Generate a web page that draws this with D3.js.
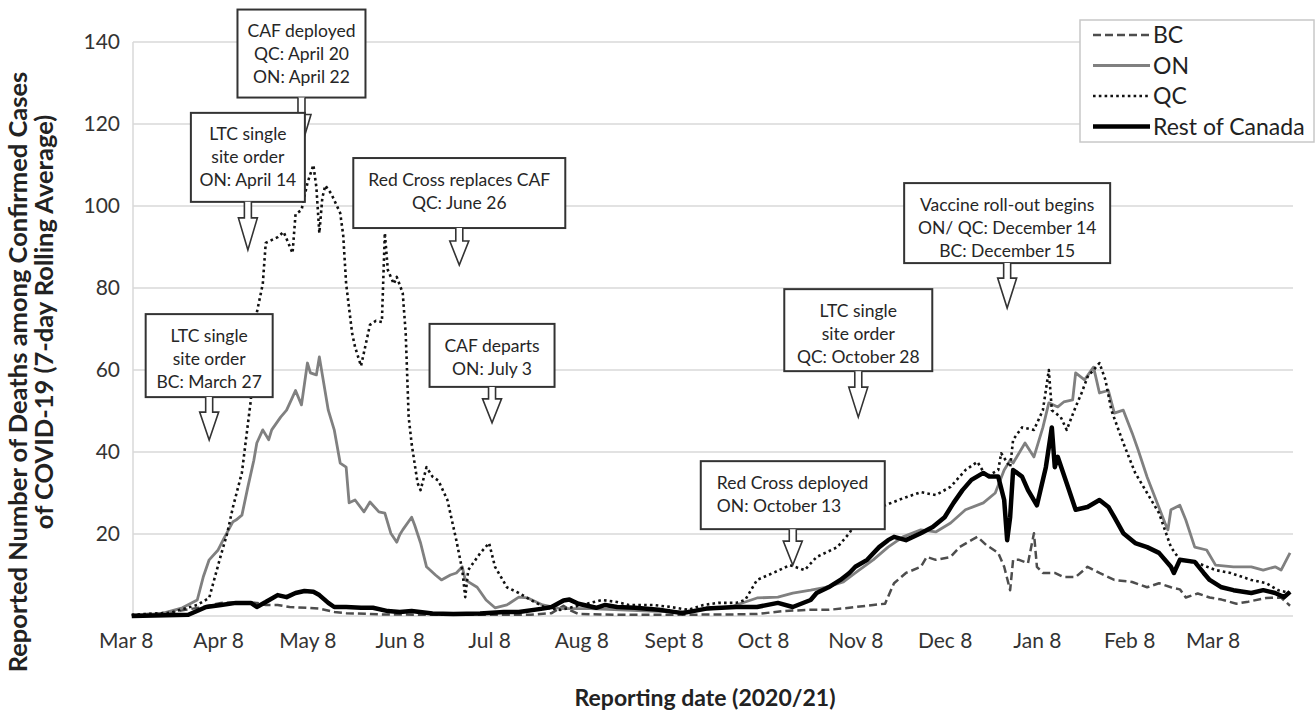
<!DOCTYPE html>
<html>
<head>
<meta charset="utf-8">
<script src="https://cdn.jsdelivr.net/npm/d3@7"></script>
<style>
  body { margin: 0; background: #fff; }
  svg { display: block; font-family: Lato, "Open Sans", sans-serif; }
</style>
</head>
<body>
<div id="wrapper"></div>
<script>
// series values: [date, 7-day avg deaths]
const bcSeries = [
  ["2020-03-10",0.2],["2020-03-20",0.7],["2020-03-28",1.5],["2020-04-03",2.2],["2020-04-09",3.2],["2020-04-13",3.3],
  ["2020-04-21",3.2],["2020-04-24",2.7],["2020-04-28",2.7],["2020-05-02",2.2],["2020-05-08",2],["2020-05-12",1.8],
  ["2020-05-17",1],["2020-05-21",0.7],["2020-06-01",0.4],["2020-06-18",0.3],["2020-07-05",0.3],["2020-07-22",0.3],
  ["2020-07-29",0.7],["2020-08-02",2.5],["2020-08-04",1.5],["2020-08-07",0.5],["2020-08-21",0.3],["2020-09-10",0.3],
  ["2020-09-30",0.4],["2020-10-06",0.5],["2020-10-15",1.2],["2020-10-23",1.5],["2020-10-30",1.5],["2020-11-06",2],
  ["2020-11-14",2.7],["2020-11-18",3],["2020-11-21",8],["2020-11-25",10.5],["2020-11-30",12],["2020-12-02",14.4],
  ["2020-12-05",13.7],["2020-12-10",14.4],["2020-12-13",16.8],["2020-12-17",18.5],["2020-12-19",19.3],["2020-12-22",17.3],
  ["2020-12-26",15.4],["2020-12-28",12],["2020-12-30",6.3],["2020-12-31",13.7],["2021-01-02",13.7],["2021-01-05",12.9],
  ["2021-01-07",20.2],["2021-01-08",12],["2021-01-10",10.5],["2021-01-14",10.5],["2021-01-17",9.5],["2021-01-21",9.5],
  ["2021-01-25",12],["2021-01-29",10.5],["2021-02-03",8.8],["2021-02-09",8.3],["2021-02-14",7],["2021-02-18",8],
  ["2021-02-22",7],["2021-02-25",6.5],["2021-02-27",4.5],["2021-03-03",5.5],["2021-03-07",4.5],["2021-03-11",4],
  ["2021-03-16",3],["2021-03-20",3.5],["2021-03-26",4.4],["2021-03-31",4.5],["2021-04-03",2.5]
]

const onSeries = [
  ["2020-03-10",0.2],["2020-03-20",0.6],["2020-03-27",2],["2020-04-01",3.9],["2020-04-03",9.5],["2020-04-05",13.7],
  ["2020-04-08",16.1],["2020-04-10",19],["2020-04-13",23],["2020-04-14",23.4],["2020-04-16",24.6],["2020-04-18",31.5],
  ["2020-04-20",38],["2020-04-21",42.2],["2020-04-23",45.4],["2020-04-25",43],["2020-04-26",45.4],["2020-04-29",48.5],
  ["2020-05-01",50.2],["2020-05-03",53.4],["2020-05-04",55],["2020-05-06",51.5],["2020-05-08",61.7],["2020-05-09",59.3],
  ["2020-05-11",58.8],["2020-05-12",63.2],["2020-05-15",50.2],["2020-05-17",45.4],["2020-05-19",37.3],["2020-05-21",36.3],
  ["2020-05-22",27.6],["2020-05-24",28.3],["2020-05-27",25.4],["2020-05-29",27.8],["2020-06-01",25.4],["2020-06-03",25.1],
  ["2020-06-05",20.2],["2020-06-07",18],["2020-06-08",19.8],["2020-06-09",21],["2020-06-12",24.1],["2020-06-13",22.2],
  ["2020-06-15",17.8],["2020-06-17",12],["2020-06-20",10],["2020-06-22",8.8],["2020-06-25",10],["2020-06-27",10.5],
  ["2020-06-29",12],["2020-06-30",8.8],["2020-07-04",7],["2020-07-07",3.9],["2020-07-10",2],["2020-07-14",2.7],
  ["2020-07-18",4.6],["2020-07-21",4.4],["2020-07-26",2.7],["2020-08-01",1.8],["2020-08-11",1.8],["2020-08-21",1.5],
  ["2020-08-31",1.2],["2020-09-10",1],["2020-09-17",1.5],["2020-09-27",2.2],["2020-10-06",4.4],["2020-10-13",4.6],
  ["2020-10-18",5.6],["2020-10-24",6.3],["2020-10-29",7],["2020-11-04",8.3],["2020-11-08",10.5],["2020-11-14",13.7],
  ["2020-11-19",16.8],["2020-11-24",19.3],["2020-11-30",21],["2020-12-05",20.5],["2020-12-10",22.7],["2020-12-15",25.9],
  ["2020-12-21",27.6],["2020-12-25",30],["2020-12-28",35.6],["2020-12-30",38],["2020-12-31",37.3],["2021-01-04",42.2],
  ["2021-01-07",38.8],["2021-01-10",46],["2021-01-12",52],["2021-01-15",51],["2021-01-17",52.2],["2021-01-20",52.7],
  ["2021-01-21",59.3],["2021-01-24",57.6],["2021-01-27",60.7],["2021-01-28",57.6],["2021-01-29",54.4],["2021-02-01",55],
  ["2021-02-03",49.5],["2021-02-06",50.2],["2021-02-09",44.6],["2021-02-11",40.5],["2021-02-14",33.9],["2021-02-17",28.3],
  ["2021-02-20",22.7],["2021-02-21",21],["2021-02-22",25.9],["2021-02-25",27],["2021-02-27",23.4],["2021-03-02",16.8],
  ["2021-03-06",16.1],["2021-03-09",12.4],["2021-03-15",12],["2021-03-21",12],["2021-03-25",11.2],["2021-03-29",12],
  ["2021-03-31",11.2],["2021-04-03",15.4]
]

const qcSeries = [
  ["2020-03-10",0.3],["2020-03-23",0.8],["2020-04-01",2.7],["2020-04-05",4.4],["2020-04-09",15],["2020-04-11",20],
  ["2020-04-13",26.6],["2020-04-16",35],["2020-04-19",52.7],["2020-04-21",74],["2020-04-23",81],["2020-04-24",91],
  ["2020-04-28",92.4],["2020-04-30",93.7],["2020-05-03",88.5],["2020-05-04",98],["2020-05-06",99],["2020-05-08",105.6],
  ["2020-05-10",110],["2020-05-11",104.6],["2020-05-12",93.4],["2020-05-13",102],["2020-05-14",105],["2020-05-16",103],
  ["2020-05-19",98.3],["2020-05-20",93],["2020-05-21",81],["2020-05-23",69],["2020-05-24",65.6],["2020-05-26",61],
  ["2020-05-29",71],["2020-05-31",72],["2020-06-02",71.7],["2020-06-03",93.4],["2020-06-04",84.4],["2020-06-06",81],
  ["2020-06-07",82.7],["2020-06-09",78.8],["2020-06-10",69],["2020-06-11",48.5],["2020-06-12",42],["2020-06-14",32.4],
  ["2020-06-15",30.7],["2020-06-17",36.3],["2020-06-19",34],["2020-06-21",33],["2020-06-24",28.3],["2020-06-27",18.5],
  ["2020-06-29",11.2],["2020-06-30",4.6],["2020-07-01",11.2],["2020-07-05",15.3],["2020-07-08",17.8],["2020-07-10",12],
  ["2020-07-14",7],["2020-07-18",5.6],["2020-07-22",3.9],["2020-07-27",2],["2020-08-01",1.5],["2020-08-07",2.5],
  ["2020-08-15",3.9],["2020-08-20",3.4],["2020-08-24",2.7],["2020-09-01",2.7],["2020-09-07",2.2],["2020-09-13",1.5],
  ["2020-09-18",2.7],["2020-09-23",3.2],["2020-09-29",3.2],["2020-10-02",3.9],["2020-10-06",8.8],["2020-10-12",10.7],
  ["2020-10-17",12.4],["2020-10-22",11.2],["2020-10-26",14.4],["2020-11-02",16.8],["2020-11-06",20.2],["2020-11-11",25.9],
  ["2020-11-18",27],["2020-11-24",28.7],["2020-11-30",30.2],["2020-12-05",29.5],["2020-12-10",31.5],["2020-12-15",35.6],
  ["2020-12-19",37.6],["2020-12-22",34],["2020-12-26",35.6],["2020-12-27",39.7],["2020-12-30",36.3],["2020-12-31",43],
  ["2021-01-03",46],["2021-01-07",45.4],["2021-01-10",50.2],["2021-01-12",60],["2021-01-13",50.2],["2021-01-16",48.5],
  ["2021-01-18",45.4],["2021-01-21",51],["2021-01-23",54.4],["2021-01-25",58.3],["2021-01-29",61.7],["2021-01-31",57.6],
  ["2021-02-02",50.2],["2021-02-06",42.2],["2021-02-10",34.9],["2021-02-14",30],["2021-02-18",25.1],["2021-02-22",16.8],
  ["2021-02-25",13.7],["2021-03-03",12.9],["2021-03-09",11.2],["2021-03-14",10.5],["2021-03-21",8.8],["2021-03-26",8],
  ["2021-03-30",6.3],["2021-04-03",5.6]
]

const restSeries = [
  ["2020-03-10",0],["2020-03-29",0.3],["2020-04-04",2.2],["2020-04-09",2.7],["2020-04-14",3.2],["2020-04-19",3.2],
  ["2020-04-21",2.2],["2020-04-24",3.4],["2020-04-28",5.1],["2020-05-01",4.6],["2020-05-04",5.6],["2020-05-07",6.1],
  ["2020-05-10",5.9],["2020-05-12",5.1],["2020-05-15",3.2],["2020-05-17",2.2],["2020-05-21",2.2],["2020-05-26",2],
  ["2020-05-30",2],["2020-06-04",1.2],["2020-06-08",1],["2020-06-12",1.2],["2020-06-19",0.6],["2020-06-26",0.5],
  ["2020-07-05",0.6],["2020-07-13",1],["2020-07-18",1],["2020-07-26",1.8],["2020-07-29",2.2],["2020-08-02",3.8],
  ["2020-08-04",4],["2020-08-07",3],["2020-08-13",2],["2020-08-16",2.7],["2020-08-20",2.2],["2020-08-26",2],
  ["2020-09-03",1.5],["2020-09-11",0.7],["2020-09-19",1.8],["2020-09-29",2.2],["2020-10-06",2.2],["2020-10-13",3.2],
  ["2020-10-18",2.2],["2020-10-24",3.9],["2020-10-26",5.6],["2020-10-30",7],["2020-11-03",8.8],["2020-11-06",10.5],
  ["2020-11-08",12],["2020-11-12",13.7],["2020-11-16",16.8],["2020-11-19",18.5],["2020-11-21",19.3],["2020-11-25",18.5],
  ["2020-11-30",20.2],["2020-12-04",21.7],["2020-12-08",24.1],["2020-12-11",27.6],["2020-12-14",30.7],["2020-12-17",33.2],
  ["2020-12-21",34.9],["2020-12-23",34],["2020-12-26",34],["2020-12-28",28.3],["2020-12-29",18.5],["2020-12-30",24.1],
  ["2020-12-31",35.6],["2021-01-03",34],["2021-01-05",30.7],["2021-01-08",27],["2021-01-11",36.3],["2021-01-13",46],
  ["2021-01-14",36.3],["2021-01-15",38.8],["2021-01-18",32.4],["2021-01-21",25.9],["2021-01-25",26.6],["2021-01-29",28.3],
  ["2021-02-01",26.6],["2021-02-03",24.1],["2021-02-06",20.2],["2021-02-10",17.8],["2021-02-14",16.8],["2021-02-18",15.4],
  ["2021-02-22",12],["2021-02-23",10.5],["2021-02-25",13.7],["2021-03-02",13.2],["2021-03-05",10.5],["2021-03-07",8.8],
  ["2021-03-11",7],["2021-03-15",6.3],["2021-03-21",5.6],["2021-03-25",6.3],["2021-03-29",5.6],["2021-04-01",4.6],
  ["2021-04-03",5.9]
]

const seriesNames = ["BC", "ON", "QC", "Rest of Canada"]
const tickMonths = ["Mar", "Apr", "May", "Jun", "Jul", "Aug", "Sept", "Oct", "Nov", "Dec", "Jan", "Feb", "Mar"]
const tickDates = ["2020-03-08","2020-04-08","2020-05-08","2020-06-08","2020-07-08","2020-08-08","2020-09-08",
  "2020-10-08","2020-11-08","2020-12-08","2021-01-08","2021-02-08","2021-03-08"]
const yTicks = [20, 40, 60, 80, 100, 120, 140]

// callouts: text lines and the point (date, value) the arrow tip sits on
const calloutText = [
  ["CAF deployed", "QC: April 20", "ON: April 22"],
  ["LTC single", "site order", "ON: April 14"],
  ["Red Cross replaces CAF", "QC: June 26"],
  ["CAF departs", "ON: July 3"],
  ["LTC single", "site order", "BC: March 27"],
  ["Vaccine roll-out begins", "ON/ QC: December 14", "BC: December 15"],
  ["LTC single", "site order", "QC: October 28"],
  ["Red Cross deployed", "ON: October 13"],
]
const calloutTip = [
  ["2020-05-06", 114.5], ["2020-04-18", 89.3], ["2020-06-28", 85.6], ["2020-07-09", 47.1],
  ["2020-04-05", 42.9], ["2020-12-29", 75.1], ["2020-11-09", 48.5], ["2020-10-18", 12.4],
]

const drawChart = () => {
  const parseDate = d3.utcParse("%Y-%m-%d")
  const xAccessor = (d) => parseDate(d[0])
  const yAccessor = (d) => d[1]

  // 1) Dimensions
  const dimensions = {
    width: 1316,
    height: 713,
    margins: { top: 42, right: 23, bottom: 97, left: 133 },
  }
  dimensions.boundedWidth = dimensions.width - dimensions.margins.left - dimensions.margins.right
  dimensions.boundedHeight = dimensions.height - dimensions.margins.top - dimensions.margins.bottom

  // 2) Canvas
  const svg = d3.select("#wrapper").append("svg")
    .attr("width", dimensions.width)
    .attr("height", dimensions.height)

  const bounds = svg.append("g")
    .attr("transform", `translate(${dimensions.margins.left},${dimensions.margins.top})`)

  // 3) Scales
  const xScale = d3.scaleUtc()
    .domain([new Date(Date.UTC(2020, 2, 10, 10)), new Date(Date.UTC(2021, 3, 4))])
    .range([0, dimensions.boundedWidth])

  const yScale = d3.scaleLinear()
    .domain([0, 140])
    .range([dimensions.boundedHeight, 0])

  // 4) Grid + axes
  const gridColor = "#d9d9d9"
  bounds.append("g").selectAll("line")
    .data([0, ...yTicks])
    .join("line")
    .attr("x1", 0)
    .attr("x2", dimensions.boundedWidth)
    .attr("y1", (d) => yScale(d))
    .attr("y2", (d) => yScale(d))
    .attr("stroke", gridColor)
    .attr("stroke-width", 1.5)

  bounds.append("line")
    .attr("x1", 0).attr("x2", 0)
    .attr("y1", 0).attr("y2", dimensions.boundedHeight)
    .attr("stroke", gridColor)
    .attr("stroke-width", 1.5)

  const yAxis = bounds.append("g")
    .call(d3.axisLeft(yScale).tickValues(yTicks).tickSize(0).tickPadding(13))
  const xAxis = bounds.append("g")
    .attr("transform", `translate(0,${dimensions.boundedHeight})`)
    .call(d3.axisBottom(xScale)
      .tickValues(tickDates.map(parseDate))
      .tickSize(0)
      .tickPadding(17)
      .tickFormat((d, i) => `${tickMonths[i]} 8`))

  ;[xAxis, yAxis].forEach((axis) => {
    axis.select(".domain").remove()
    axis.selectAll("text")
      .attr("font-family", "Lato, sans-serif")
      .attr("font-size", 21)
      .attr("fill", "#333")
  })

  // 5) Lines
  const lineGenerator = d3.line()
    .x((d) => xScale(xAccessor(d)))
    .y((d) => yScale(yAccessor(d)))

  const styles = [
    { stroke: "#4d4d4d", width: 2.5, dash: "8,4" },
    { stroke: "#808080", width: 2.8, dash: null },
    { stroke: "#111", width: 2.6, dash: "2.6,3.2" },
    { stroke: "#000", width: 4.5, dash: null },
  ]
  const allSeries = [bcSeries, onSeries, qcSeries, restSeries]

  bounds.append("g").selectAll("path")
    .data(allSeries)
    .join("path")
    .attr("d", (d) => lineGenerator(d))
    .attr("fill", "none")
    .attr("stroke", (d, i) => styles[i].stroke)
    .attr("stroke-width", (d, i) => styles[i].width)
    .attr("stroke-dasharray", (d, i) => styles[i].dash)
    .attr("stroke-linejoin", "round")

  // 6) Legend
  const legend = svg.append("g")
  legend.append("rect")
    .attr("x", 1080).attr("y", 20)
    .attr("width", 234).attr("height", 122)
    .attr("fill", "#fff")
    .attr("stroke", "#c8c8c8")
    .attr("stroke-width", 1.5)
  const rows = legend.selectAll("g.row")
    .data(seriesNames)
    .join("g")
    .attr("class", "row")
    .attr("transform", (d, i) => `translate(0,${35 + i * 30.5})`)
  rows.append("line")
    .attr("x1", 1093).attr("x2", 1150)
    .attr("stroke", (d, i) => styles[i].stroke)
    .attr("stroke-width", (d, i) => styles[i].width)
    .attr("stroke-dasharray", (d, i) => styles[i].dash)
  rows.append("text")
    .attr("x", 1153)
    .attr("dy", "0.35em")
    .attr("font-size", 23)
    .attr("fill", "#222")
    .text((d) => d)

  // 7) Callouts
  const calloutLayout = [
    { w: 128, h: 88, len: 49 }, { w: 114, h: 89, len: 48 }, { w: 212, h: 70, len: 37 },
    { w: 125, h: 63, len: 36 }, { w: 127, h: 83, len: 43 }, { w: 206, h: 80, len: 45 },
    { w: 148, h: 82, len: 46 }, { w: 184, h: 68, len: 36, align: "start" },
  ]
  const callouts = bounds.append("g")
  calloutText.forEach((lines, i) => {
    const lay = calloutLayout[i]
    const tx = xScale(parseDate(calloutTip[i][0]))
    const ty = yScale(calloutTip[i][1])
    const bottom = ty - lay.len
    const top = bottom - lay.h
    const left = tx - lay.w / 2
    const head = Math.round(lay.len * 0.66)
    const g = callouts.append("g")

    g.append("rect")
      .attr("x", left).attr("y", top)
      .attr("width", lay.w).attr("height", lay.h)
      .attr("fill", "#fff")
      .attr("stroke", "#333")
      .attr("stroke-width", 2)

    const sy = ty - head
    g.append("path")
      .attr("d", `M${tx - 3.5},${bottom} L${tx - 3.5},${sy} L${tx - 9.5},${sy} L${tx},${ty} L${tx + 9.5},${sy} L${tx + 3.5},${sy} L${tx + 3.5},${bottom}`)
      .attr("fill", "#fff")
      .attr("stroke", "#333")
      .attr("stroke-width", 1.6)

    g.selectAll("text")
      .data(lines)
      .join("text")
      .attr("x", lay.align === "start" ? left + 16 : tx)
      .attr("y", (d, j) => top + 21.5 + j * 23)
      .attr("dy", "0.35em")
      .attr("text-anchor", lay.align === "start" ? "start" : "middle")
      .attr("font-size", 17.5)
      .attr("fill", "#262626")
      .text((d) => d)
  })

  // 8) Axis titles
  svg.append("text")
    .attr("x", 705).attr("y", 706)
    .attr("text-anchor", "middle")
    .attr("font-size", 23)
    .attr("font-weight", 700)
    .attr("fill", "#222")
    .text("Reporting date (2020/21)")

  const yTitle = ["Reported Number of Deaths among Confirmed Cases", "of COVID-19 (7-day Rolling Average)"]
  const yTitleCenter = [372, 322]
  svg.append("g").selectAll("text")
    .data(yTitle)
    .join("text")
    .attr("transform", (d, i) => `translate(${27 + i * 26},${yTitleCenter[i]}) rotate(-90)`)
    .attr("text-anchor", "middle")
    .attr("font-size", 25.5)
    .attr("font-weight", 700)
    .attr("fill", "#222")
    .text((d) => d)
}

drawChart()
</script>
</body>
</html>
